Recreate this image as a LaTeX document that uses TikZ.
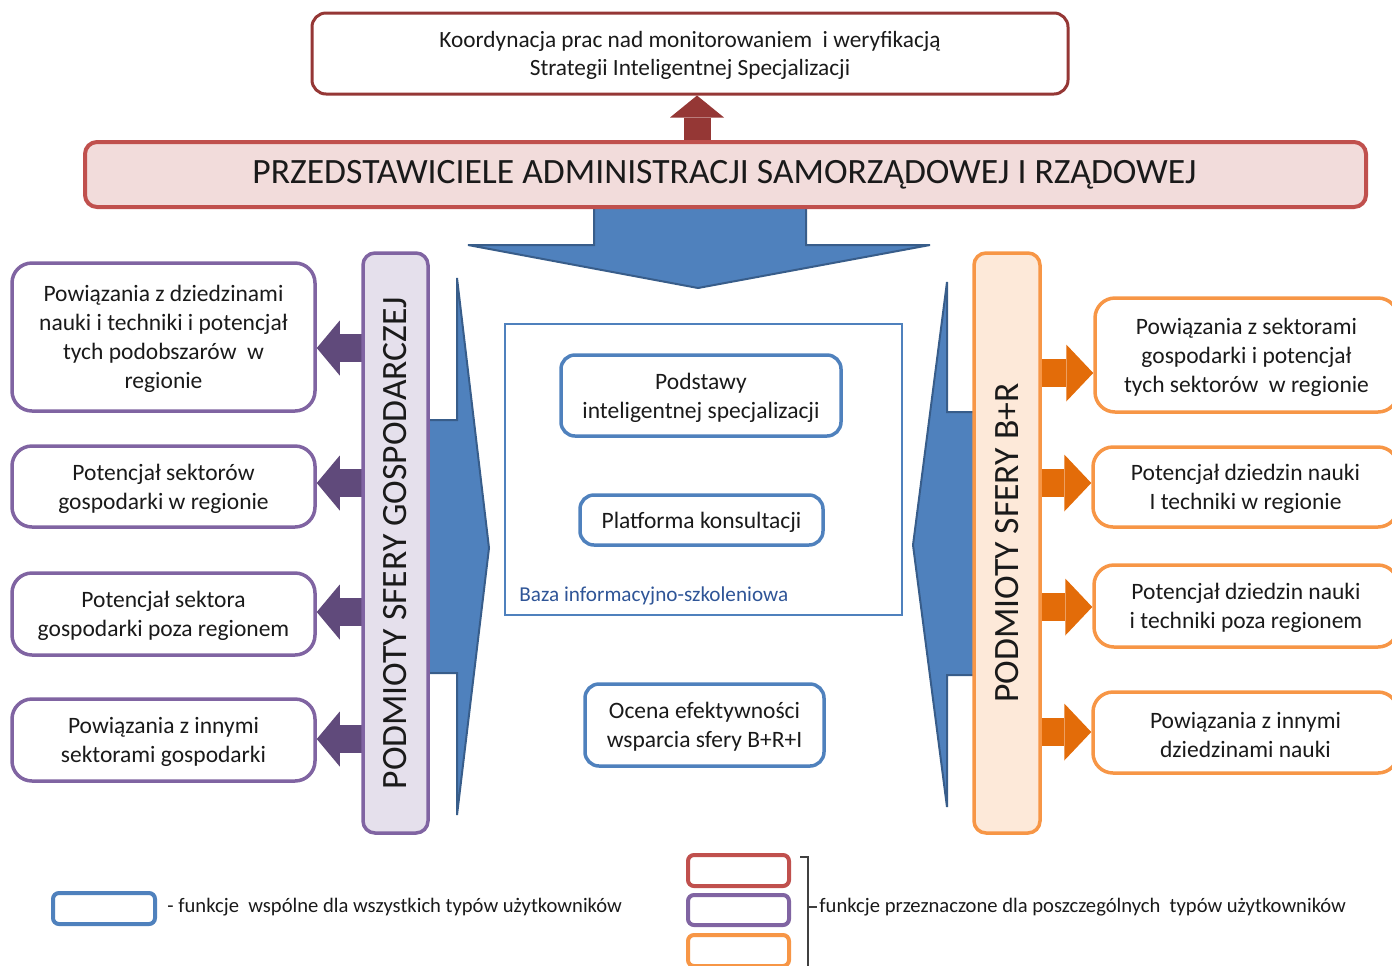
\documentclass[tikz,border=0pt]{standalone}
\usepackage{fontspec}
\setmainfont{Carlito}
\usetikzlibrary{arrows.meta,fit,calc,backgrounds}

% palette
\definecolor{rdark}{HTML}{953735}
\definecolor{rmid}{HTML}{C0504D}
\definecolor{rpale}{HTML}{F2DCDB}
\definecolor{pmid}{HTML}{8064A2}
\definecolor{pdark}{HTML}{604A7B}
\definecolor{ppale}{HTML}{E5E0EC}
\definecolor{omid}{HTML}{F79646}
\definecolor{odark}{HTML}{E36C09}
\definecolor{opale}{HTML}{FDE9D9}
\definecolor{bmid}{HTML}{4F81BD}
\definecolor{bdark}{HTML}{385D8A}
\definecolor{btext}{HTML}{2F5597}
\definecolor{ink}{HTML}{1A1A1A}

\newcommand\boxfont{\fontsize{11.75pt}{14.5pt}\selectfont}
\newcommand\topfont{\fontsize{11.65pt}{14pt}\selectfont}
\newcommand\bannerfont{\fontsize{17.8pt}{20pt}\selectfont}
\newcommand\barfont{\fontsize{17.8pt}{20pt}\selectfont}
\newcommand\legfont{\fontsize{10.3pt}{12pt}\selectfont}

\begin{document}
\begin{tikzpicture}[x=0.5pt,y=-0.5pt,
  every node/.style={text=ink},
  shell/.style={inner sep=0pt, fill=white},
  pbox/.style={shell, draw=pmid, line width=1.75pt, rounded corners=10pt},
  obox/.style={shell, draw=omid, line width=1.75pt, rounded corners=10pt},
  bbox/.style={shell, draw=bmid, line width=1.75pt, rounded corners=7pt},
  topbox/.style={shell, draw=rdark, line width=1.5pt, rounded corners=7pt},
  banner/.style={inner sep=0pt, draw=rmid, fill=rpale, line width=2pt, rounded corners=6pt},
  sidebar/.style={inner sep=0pt, line width=1.75pt, rounded corners=6pt},
  label text/.style={inner sep=0pt, align=center, font=\boxfont, yshift=-1pt},
  bartext/.style={rotate=90, font=\barfont, inner sep=0pt},
  lgbox/.style={inner sep=0pt, line width=2pt, rounded corners=3pt, fill=white},
  bigarrow/.style={fill=bmid, draw=bdark, line width=1pt, line join=miter},
  parrow/.style={draw=pdark, line width=14pt, -{Triangle[width=27.5pt,length=11.5pt,line width=0pt]}},
  oarrow/.style={draw=odark, line width=14pt, -{Triangle[width=28.5pt,length=13.5pt,line width=0pt]}},
  rarrow/.style={draw=rdark, line width=13.5pt, -{Triangle[width=27pt,length=11pt,line width=0pt]}},
  bracket/.style={draw=black!75, line width=0.6pt}
]
\useasboundingbox (0,0) rectangle (1392,965);
\clip (0,0) rectangle (1392,965);

% ---- top part
\node[topbox, fit={(312,13) (1068,94)}] (coord) {};
\node[label text, font=\topfont] (coordt) at (coord.center)
  {Koordynacja prac nad monitorowaniem\ \ i weryfikacją\\Strategii Inteligentnej Specjalizacji};
\node[banner, fit={(85,142) (1366,207)}] (admin) {};
\node[inner sep=0pt, font=\bannerfont] (admint) at ([xshift=-0.5pt]admin.center)
  {PRZEDSTAWICIELE ADMINISTRACJI SAMORZĄDOWEJ I RZĄDOWEJ};

% ---- side bars
\node[sidebar, draw=pmid, fill=ppale, fit={(363,253) (428,833)}] (gbar) {};
\node[bartext] (gbartxt) at (gbar.center) {PODMIOTY SFERY GOSPODARCZEJ};
\node[sidebar, draw=omid, fill=opale, fit={(974,253) (1040,833)}] (obar) {};
\node[bartext] (obartxt) at (obar.center) {PODMIOTY SFERY B+R};

% ---- left column
\node[pbox, fit={(12,263) (315,411)}] (l1) {};
\node[label text] (l1t) at (l1.center)
  {Powiązania z dziedzinami\\nauki i techniki i potencjał\\tych podobszarów\ \ w\\regionie};
\node[pbox, fit={(12,446) (315,527)}] (l2) {};
\node[label text] (l2t) at (l2.center) {Potencjał sektorów\\gospodarki w regionie};
\node[pbox, fit={(12,573) (315,655)}] (l3) {};
\node[label text] (l3t) at (l3.center) {Potencjał sektora\\gospodarki poza regionem};
\node[pbox, fit={(12,699) (315,781)}] (l4) {};
\node[label text] (l4t) at (l4.center) {Powiązania z innymi\\sektorami gospodarki};

% ---- right column
\node[obox, fit={(1095,298) (1398,412)}] (r1) {};
\node[label text] (r1t) at (r1.center)
  {Powiązania z sektorami\\gospodarki i potencjał\\tych sektorów\ \ w regionie};
\node[obox, fit={(1093,447) (1398,527)}] (r2) {};
\node[label text] (r2t) at (r2.center) {Potencjał dziedzin nauki\\I techniki w regionie};
\node[obox, fit={(1094,565) (1398,647)}] (r3) {};
\node[label text] (r3t) at (r3.center) {Potencjał dziedzin nauki\\i techniki poza regionem};
\node[obox, fit={(1093,692) (1398,773)}] (r4) {};
\node[label text] (r4t) at (r4.center) {Powiązania z innymi\\dziedzinami nauki};

% ---- centre
\node[draw=bmid, line width=0.75pt, inner sep=0pt, fit={(505,324) (902,615)}] (base) {};
\node[anchor=west, text=btext, font=\fontsize{10.6pt}{12pt}\selectfont, inner sep=0pt]
  (basetxt) at (519,596) {Baza informacyjno-szkoleniowa};
\node[bbox, fit={(561,355) (841,436)}] (c1) {};
\node[label text] (c1t) at (c1.center) {Podstawy\\inteligentnej specjalizacji};
\node[bbox, fit={(580,495) (823,545)}] (c2) {};
\node[label text] (c2t) at (c2.center) {Platforma konsultacji};
\node[bbox, fit={(585,684) (824,766)}] (c3) {};
\node[label text] (c3t) at (c3.center) {Ocena efektywności\\wsparcia sfery B+R+I};

% ---- block arrows behind everything
\coordinate (dtip) at (698,288);
\coordinate (ltip) at (489,548);
\coordinate (rtip) at (913,545);
\coordinate (uptip) at (coord.south -| 697,0);
\coordinate (pa1) at (l1.east |- 0,348);
\coordinate (pa2) at (l2.east |- 0,483);
\coordinate (pa3) at (l3.east |- 0,612);
\coordinate (pa4) at (l4.east |- 0,739);
\coordinate (oa1) at (r1.west |- 0,373);
\coordinate (oa2) at (r2.west |- 0,483);
\coordinate (oa3) at (r3.west |- 0,607);
\coordinate (oa4) at (r4.west |- 0,732);
\begin{scope}[on background layer]
  \path[bigarrow] (594,200) -- (594,245) -- (468,245) -- (dtip) -- (930,245) -- (806,245) -- (806,200) -- cycle;
  \path[bigarrow] (415,420) -- (457,420) -- (457,278) -- (ltip) -- (457,815) -- (457,673) -- (415,673) -- cycle;
  \path[bigarrow] (990,412) -- (947,412) -- (947,282) -- (rtip) -- (947,807) -- (947,675) -- (990,675) -- cycle;
  \draw[rarrow] (admin.north -| uptip) -- (uptip);
  \foreach \k in {1,...,4} {
    \draw[parrow] (gbar.center |- pa\k) -- (pa\k);
    \draw[oarrow] (obar.center |- oa\k) -- (oa\k);
  }
\end{scope}

% ---- legend
\node[lgbox, draw=bmid, fit={(53,893) (155,924)}] (lgb) {};
\node[anchor=west, font=\legfont, inner sep=1pt] (lgbtxt) at (165,907)
  {- funkcje\ \ wspólne dla wszystkich typów użytkowników};
\node[lgbox, draw=rmid, fit={(688,855) (789,886)}] (lgr) {};
\node[lgbox, draw=pmid, fit={(688,895) (789,925)}] (lgp) {};
\node[lgbox, draw=omid, fit={(688,935) (789,966)}] (lgo) {};
\node[anchor=west, font=\legfont, inner sep=1pt] (lgtxt) at (817,907)
  {funkcje przeznaczone dla poszczególnych\ \ typów użytkowników};
\coordinate (brtop) at (800,857);
\coordinate (brbot) at (808,975);
\draw[bracket] (brtop) -- (brtop -| brbot) -- (brbot);
\draw[bracket] (lgtxt.west -| brbot) -- (lgtxt.west);
\end{tikzpicture}
\end{document}
